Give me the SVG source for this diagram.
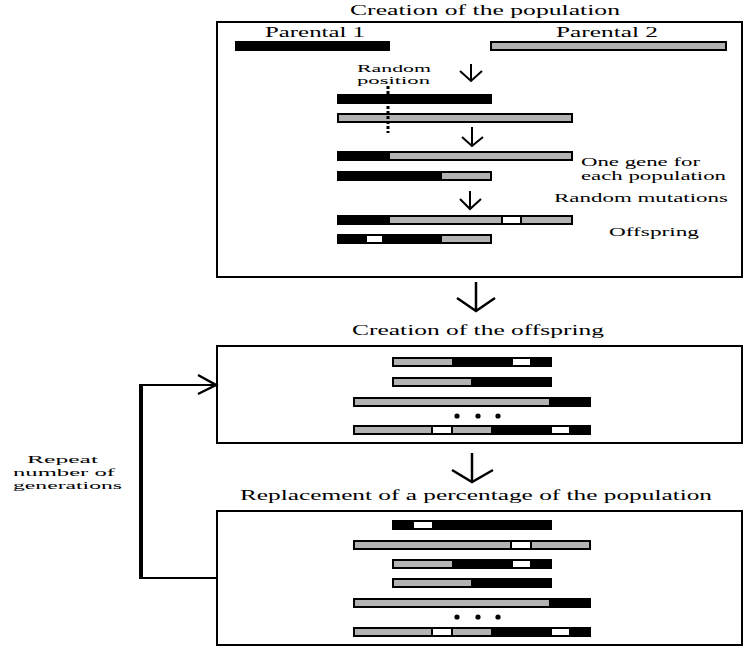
<svg xmlns="http://www.w3.org/2000/svg" width="751" height="651" viewBox="0 0 751 651">
<style>
.t{font-family:"Liberation Serif","Times New Roman",serif;fill:#000}
.box{fill:none;stroke:#000;stroke-width:2}
.b{fill:#000}
.g{fill:#b3b3b3}
.w{fill:#fff}
.ln{fill:none;stroke:#000;stroke-width:2}
.ar{fill:none;stroke:#000;stroke-width:2.5}
</style>
<rect width="751" height="651" fill="#fff"/>
<g id="title1"><text class="t" x="350" y="15" font-size="15" textLength="270" lengthAdjust="spacingAndGlyphs">Creation of the population</text></g>
<g id="box1">
<rect class="box" x="217" y="22" width="525" height="255"/>
<text class="t" x="265" y="37" font-size="14" textLength="100" lengthAdjust="spacingAndGlyphs">Parental 1</text>
<text class="t" x="556" y="37" font-size="14" textLength="102" lengthAdjust="spacingAndGlyphs">Parental 2</text>
<rect class="b" x="235" y="41" width="155" height="10"/>
<rect class="b" x="490" y="41" width="237" height="10"/><rect class="g" x="492" y="43" width="233" height="6"/>
<text class="t" x="357" y="72" font-size="10" textLength="74" lengthAdjust="spacingAndGlyphs">Random</text>
<text class="t" x="357" y="83.5" font-size="10" textLength="73" lengthAdjust="spacingAndGlyphs">position</text>
<rect class="b" x="337" y="94" width="155" height="10"/>
<rect class="b" x="337" y="113" width="236" height="10"/><rect class="g" x="339" y="115" width="232" height="6"/>
<line x1="388" y1="86" x2="388" y2="133" stroke="#000" stroke-width="3" stroke-dasharray="3,2"/>
<rect class="b" x="337" y="151" width="236" height="10"/><rect class="g" x="390" y="153" width="181" height="6"/>
<rect class="b" x="337" y="171" width="155" height="10"/><rect class="g" x="442" y="173" width="48" height="6"/>
<text class="t" x="581" y="166" font-size="12" textLength="119" lengthAdjust="spacingAndGlyphs">One gene for</text>
<text class="t" x="581" y="180" font-size="12" textLength="145" lengthAdjust="spacingAndGlyphs">each population</text>
<text class="t" x="554" y="202" font-size="13" textLength="174" lengthAdjust="spacingAndGlyphs">Random mutations</text>
<rect class="b" x="337" y="215" width="236" height="10"/><rect class="g" x="390" y="217" width="111" height="6"/><rect class="w" x="503" y="217" width="17" height="6"/><rect class="g" x="522" y="217" width="49" height="6"/>
<rect class="b" x="337" y="234" width="155" height="10"/><rect class="w" x="367" y="236" width="15" height="6"/><rect class="g" x="442" y="236" width="48" height="6"/>
<text class="t" x="609" y="236" font-size="13" textLength="90" lengthAdjust="spacingAndGlyphs">Offspring</text>
</g>
<g id="title2"><text class="t" x="352" y="335" font-size="15" textLength="252" lengthAdjust="spacingAndGlyphs">Creation of the offspring</text></g>
<g id="box2">
<rect class="box" x="217" y="346" width="525" height="97"/>
<rect class="b" x="392" y="357" width="160" height="10"/><rect class="g" x="394" y="359" width="58" height="6"/><rect class="w" x="513" y="359" width="17" height="6"/>
<rect class="b" x="392" y="377" width="160" height="10"/><rect class="g" x="394" y="379" width="77" height="6"/>
<rect class="b" x="353" y="397" width="238" height="10"/><rect class="g" x="355" y="399" width="194" height="6"/>
<circle cx="457" cy="416" r="2.6"/><circle cx="478" cy="416" r="2.6"/><circle cx="498" cy="416" r="2.6"/>
<rect class="b" x="353" y="425" width="238" height="10"/><rect class="g" x="355" y="427" width="76" height="6"/><rect class="w" x="433" y="427" width="18" height="6"/><rect class="g" x="453" y="427" width="38" height="6"/><rect class="w" x="552" y="427" width="17" height="6"/>
</g>
<g id="title3"><text class="t" x="240" y="500" font-size="15" textLength="472" lengthAdjust="spacingAndGlyphs">Replacement of a percentage of the population</text></g>
<g id="box3">
<rect class="box" x="217" y="511" width="525" height="134"/>
<rect class="b" x="392" y="520" width="160" height="10"/><rect class="w" x="414" y="522" width="18" height="6"/>
<rect class="b" x="353" y="540" width="238" height="10"/><rect class="g" x="355" y="542" width="155" height="6"/><rect class="w" x="512" y="542" width="18" height="6"/><rect class="g" x="532" y="542" width="57" height="6"/>
<rect class="b" x="392" y="559" width="160" height="10"/><rect class="g" x="394" y="561" width="58" height="6"/><rect class="w" x="513" y="561" width="17" height="6"/>
<rect class="b" x="392" y="578" width="160" height="10"/><rect class="g" x="394" y="580" width="77" height="6"/>
<rect class="b" x="353" y="598" width="238" height="10"/><rect class="g" x="355" y="600" width="194" height="6"/>
<circle cx="457" cy="617" r="2.6"/><circle cx="478" cy="617" r="2.6"/><circle cx="498" cy="617" r="2.6"/>
<rect class="b" x="353" y="627" width="238" height="10"/><rect class="g" x="355" y="629" width="76" height="6"/><rect class="w" x="433" y="629" width="18" height="6"/><rect class="g" x="453" y="629" width="38" height="6"/><rect class="w" x="552" y="629" width="17" height="6"/>
</g>
<g id="repeat-label">
<text class="t" x="27" y="463" font-size="11" textLength="71" lengthAdjust="spacingAndGlyphs">Repeat</text>
<text class="t" x="13" y="476" font-size="11" textLength="102" lengthAdjust="spacingAndGlyphs">number of</text>
<text class="t" x="13" y="489" font-size="11" textLength="109" lengthAdjust="spacingAndGlyphs">generations</text>
</g>
<g id="connectors">
<line class="ln" x1="471" y1="64" x2="471" y2="81"/><polyline class="ln" points="460,71 471,81 482,71"/>
<line class="ln" x1="472" y1="127" x2="472" y2="146"/><polyline class="ln" points="462,137 472,146 483,137"/>
<line class="ln" x1="470" y1="191" x2="470" y2="209"/><polyline class="ln" points="460,199 470,209 481,199"/>
<line class="ar" x1="476" y1="282" x2="476" y2="311"/><polyline class="ar" points="457,298 476,311 495,298"/>
<line class="ar" x1="472" y1="453" x2="472" y2="482"/><polyline class="ar" points="452,470 472,482 493,470"/>
<polyline fill="none" stroke="#000" stroke-width="2" points="217,578 141,578"/>
<line x1="141" y1="385" x2="141" y2="579" stroke="#000" stroke-width="4"/>
<polyline fill="none" stroke="#000" stroke-width="2" points="139,385 216,385"/>
<polyline class="ar" points="198,375 216,385 198,394"/>
</g>
</svg>
